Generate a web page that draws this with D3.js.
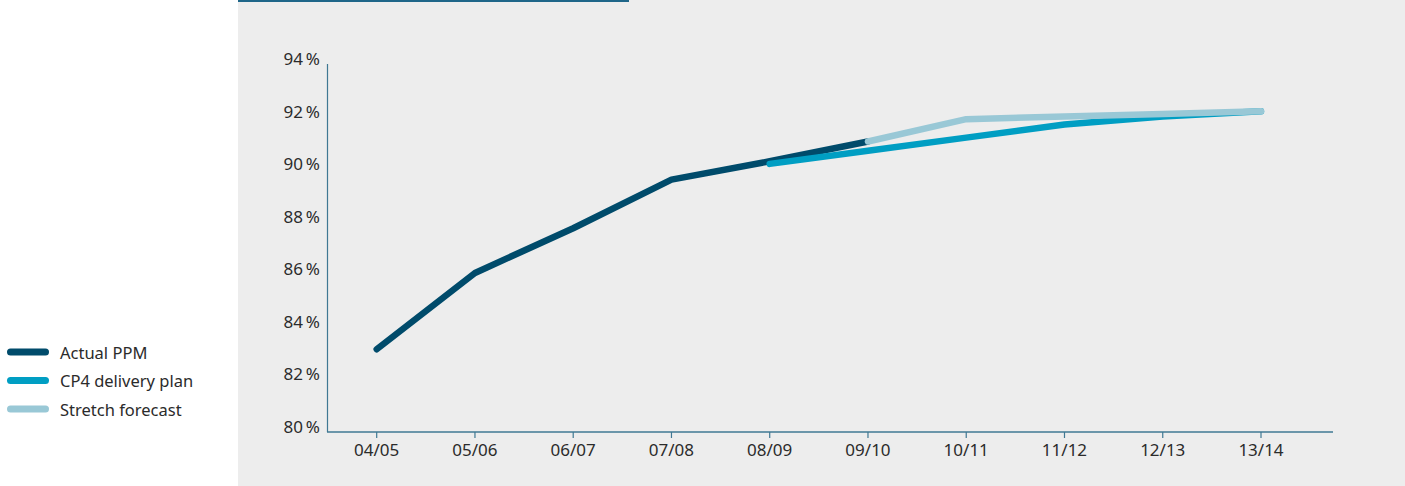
<!DOCTYPE html>
<html><head><meta charset="utf-8">
<script src="https://cdn.jsdelivr.net/npm/d3@7"></script>
<style>
html,body{margin:0;padding:0;background:#fff;}
svg{display:block;font-family:"Noto Sans","Open Sans",sans-serif;}
</style></head>
<body>
<svg id="c" width="1405" height="486"></svg>
<script>
const categories = ["04/05","05/06","06/07","07/08","08/09","09/10","10/11","11/12","12/13","13/14"];
const actualPPM = [
  {cat:"04/05", v:83.15},{cat:"05/06", v:86.05},{cat:"06/07", v:87.75},
  {cat:"07/08", v:89.6},{cat:"08/09", v:90.3},{cat:"09/10", v:91.05}
];
const cp4Plan = [
  {cat:"08/09", v:90.2},{cat:"09/10", v:90.7},{cat:"10/11", v:91.2},
  {cat:"11/12", v:91.7},{cat:"12/13", v:92.0},{cat:"13/14", v:92.2}
];
const stretchForecast = [
  {cat:"09/10", v:91.05},{cat:"10/11", v:91.9},{cat:"11/12", v:92.0},
  {cat:"12/13", v:92.1},{cat:"13/14", v:92.2}
];
const yTicks = [80,82,84,86,88,90,92,94];
const seriesNames = ["Actual PPM","CP4 delivery plan","Stretch forecast"];
const seriesColors = ["#004b6b","#009ec3","#99c8d6"];

const svg = d3.select("#c");
svg.append("rect").attr("x",238).attr("y",0).attr("width",1405-238).attr("height",486).attr("fill","#ededed");
svg.append("rect").attr("x",238).attr("y",0).attr("width",391).attr("height",2).attr("fill","#1f6689");

const x = d3.scalePoint().domain(categories).range([376.7,1261]);
const y = d3.scaleLinear().domain([80,94]).range([432,64]);
const axisColor = "#3f7893";
const textColor = "#2b2b2b";

svg.append("line").attr("x1",327.5).attr("x2",327.5).attr("y1",y(94)).attr("y2",432).attr("stroke",axisColor).attr("stroke-width",1.2);
svg.append("line").attr("x1",327).attr("x2",1333).attr("y1",432).attr("y2",432).attr("stroke",axisColor).attr("stroke-width",1.4);

const xg = svg.append("g");
xg.selectAll("line").data(categories).join("line")
  .attr("x1",d=>x(d)).attr("x2",d=>x(d)).attr("y1",432).attr("y2",438)
  .attr("stroke",axisColor).attr("stroke-width",1.2);
xg.selectAll("text").data(categories).join("text")
  .attr("x",d=>x(d)).attr("y",449).attr("text-anchor","middle").attr("dominant-baseline","central")
  .attr("font-size",17).attr("fill",textColor).text(d=>d);

svg.append("g").selectAll("text").data(yTicks).join("text")
  .attr("x",320).attr("y",d=>y(d)-5.5).attr("text-anchor","end").attr("dominant-baseline","central")
  .attr("font-size",17).attr("fill",textColor).text(d=>d+"\u2009%");

const line = d3.line().x(d=>x(d.cat)).y(d=>y(d.v));
[actualPPM,cp4Plan,stretchForecast].forEach((s,i)=>{
  svg.append("path").datum(s).attr("d",line).attr("fill","none")
    .attr("stroke",seriesColors[i]).attr("stroke-width",6.5)
    .attr("stroke-linecap","round").attr("stroke-linejoin","round");
});

const lg = svg.append("g");
seriesNames.forEach((n,i)=>{
  const cy = 352 + i*28.5;
  lg.append("line").attr("x1",10.5).attr("x2",45.5).attr("y1",cy).attr("y2",cy)
    .attr("stroke",seriesColors[i]).attr("stroke-width",7).attr("stroke-linecap","round");
  lg.append("text").attr("x",60).attr("y",cy).attr("dominant-baseline","central")
    .attr("font-size",16.5).attr("fill",textColor).text(n);
});
</script>
</body></html>
